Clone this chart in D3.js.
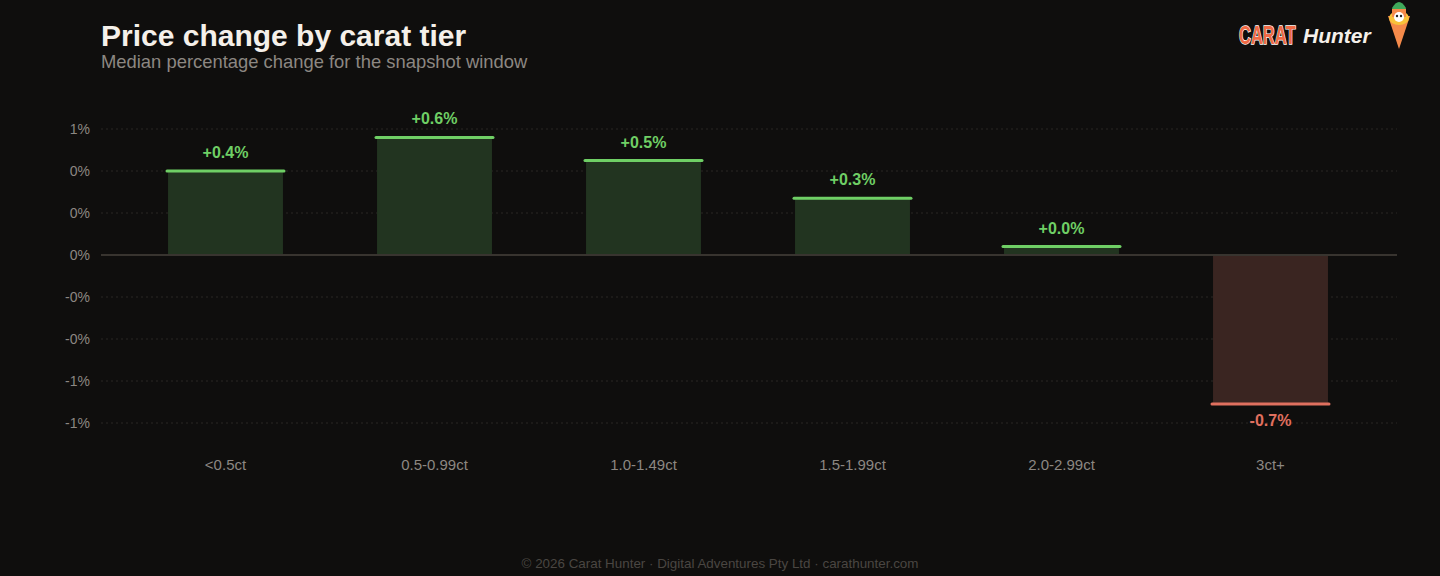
<!DOCTYPE html>
<html>
<head>
<meta charset="utf-8">
<script src="https://cdn.jsdelivr.net/npm/d3@7"></script>
<style>
  html, body { margin: 0; padding: 0; background: #0f0e0d; }
  svg { display: block; font-family: "Liberation Sans", Arial, sans-serif; }
</style>
</head>
<body>
<svg id="chart" width="1440" height="576"></svg>
<script>
const categories = ["<0.5ct", "0.5-0.99ct", "1.0-1.49ct", "1.5-1.99ct", "2.0-2.99ct", "3ct+"];
const values = [0.40, 0.56, 0.45, 0.27, 0.04, -0.71];
const yTicks = [0.6, 0.4, 0.2, 0, -0.2, -0.4, -0.6, -0.8];

const W = 1440, H = 576;
const svg = d3.select("#chart");
svg.append("rect").attr("width", W).attr("height", H).attr("fill", "#0f0e0d");

const plotLeft = 101, plotRight = 1397;
const x = d3.scaleBand().domain(categories).range([121, 1375]).paddingInner(0.45).paddingOuter(0.225);
const y = d3.scaleLinear().domain([-0.8, 0.6]).range([423, 129]);

// grid
const grid = svg.append("g");
grid.selectAll("line").data(yTicks.filter(d => d !== 0)).join("line")
  .attr("x1", plotLeft).attr("x2", plotRight)
  .attr("y1", d => y(d)).attr("y2", d => y(d))
  .attr("stroke", "#2a2724").attr("stroke-width", 1).attr("stroke-dasharray", "2,3");

// y axis labels
const yAxis = d3.axisLeft(y).tickValues(yTicks).tickSize(0).tickPadding(0)
  .tickFormat(d => d.toFixed(0) + "%");
const yg = svg.append("g").attr("transform", `translate(90,0)`).call(yAxis);
yg.select(".domain").remove();
yg.selectAll("text").attr("fill", "#8c8782").attr("font-size", 14)
  .attr("font-family", "Liberation Sans, Arial, sans-serif");

// bars
const bars = svg.append("g");
bars.selectAll("rect").data(values).join("rect")
  .attr("x", (d, i) => x(categories[i]))
  .attr("width", x.bandwidth())
  .attr("y", d => Math.min(y(d), y(0)))
  .attr("height", d => Math.abs(y(d) - y(0)))
  .attr("fill", d => d >= 0 ? "#223420" : "#3a2521");

// zero line
svg.append("line").attr("x1", plotLeft).attr("x2", plotRight)
  .attr("y1", y(0)).attr("y2", y(0)).attr("stroke", "#38342f").attr("stroke-width", 2);

// caps
bars.selectAll("line").data(values).join("line")
  .attr("x1", (d, i) => x(categories[i]) - 1)
  .attr("x2", (d, i) => x(categories[i]) + x.bandwidth() + 1)
  .attr("y1", d => y(d)).attr("y2", d => y(d))
  .attr("stroke", d => d >= 0 ? "#6fcf65" : "#e0705f")
  .attr("stroke-width", 3).attr("stroke-linecap", "round");

// value labels
bars.selectAll("text").data(values).join("text")
  .attr("x", (d, i) => x(categories[i]) + x.bandwidth() / 2)
  .attr("y", d => d >= 0 ? y(d) - 13 : y(d) + 22)
  .attr("text-anchor", "middle")
  .attr("font-size", 16).attr("font-weight", "bold")
  .attr("fill", d => d >= 0 ? "#6fcf65" : "#e0705f")
  .text(d => (d >= 0 ? "+" : "") + d.toFixed(1) + "%");

// x axis labels
const xAxis = d3.axisBottom(x).tickSize(0).tickPadding(0);
const xg = svg.append("g").attr("transform", `translate(0,459)`).call(xAxis);
xg.select(".domain").remove();
xg.selectAll("text").attr("fill", "#8c8782").attr("font-size", 15)
  .attr("font-family", "Liberation Sans, Arial, sans-serif");

// title
svg.append("text").attr("x", 101).attr("y", 46).attr("font-size", 30).attr("font-weight", "bold")
  .attr("fill", "#f5f0ea").text("Price change by carat tier");
svg.append("text").attr("x", 101).attr("y", 68).attr("font-size", 18.4)
  .attr("fill", "#8c8782").text("Median percentage change for the snapshot window");

// footer
svg.append("text").attr("x", 720).attr("y", 568).attr("text-anchor", "middle").attr("font-size", 13.4)
  .attr("fill", "#4a4642").text("© 2026 Carat Hunter · Digital Adventures Pty Ltd · carathunter.com");

// logo
const logo = svg.append("g");
logo.append("text").attr("transform", "translate(1239,44) scale(0.66,1)").attr("font-size", 25).attr("font-weight", "bold")
  .attr("fill", "#f06a45").attr("stroke", "#ffffff").attr("stroke-width", 1.4).attr("paint-order", "stroke")
  .text("CARAT");
logo.append("text").attr("x", 1303).attr("y", 43).attr("font-size", 21).attr("font-weight", "bold")
  .attr("font-style", "italic").attr("fill", "#f5f0ea").text("Hunter");
// carrot
logo.append("path").attr("d", "M1388,16 L1410,16 L1399,49 Z").attr("fill", "#f58a4a");
logo.append("path").attr("d", "M1392,8 Q1399,-4 1406,8 L1405,12 L1393,12 Z").attr("fill", "#3fa85a");
logo.append("ellipse").attr("cx", 1399).attr("cy", 18).attr("rx", 10).attr("ry", 7).attr("fill", "#f8c23a");
logo.append("rect").attr("x", 1392).attr("y", 9).attr("width", 14).attr("height", 8).attr("fill", "#f58a4a");
logo.append("circle").attr("cx", 1399).attr("cy", 17).attr("r", 5).attr("fill", "#ffffff");
logo.append("circle").attr("cx", 1397).attr("cy", 16).attr("r", 1.2).attr("fill", "#222");
logo.append("circle").attr("cx", 1401).attr("cy", 16).attr("r", 1.2).attr("fill", "#222");
</script>
</body>
</html>
